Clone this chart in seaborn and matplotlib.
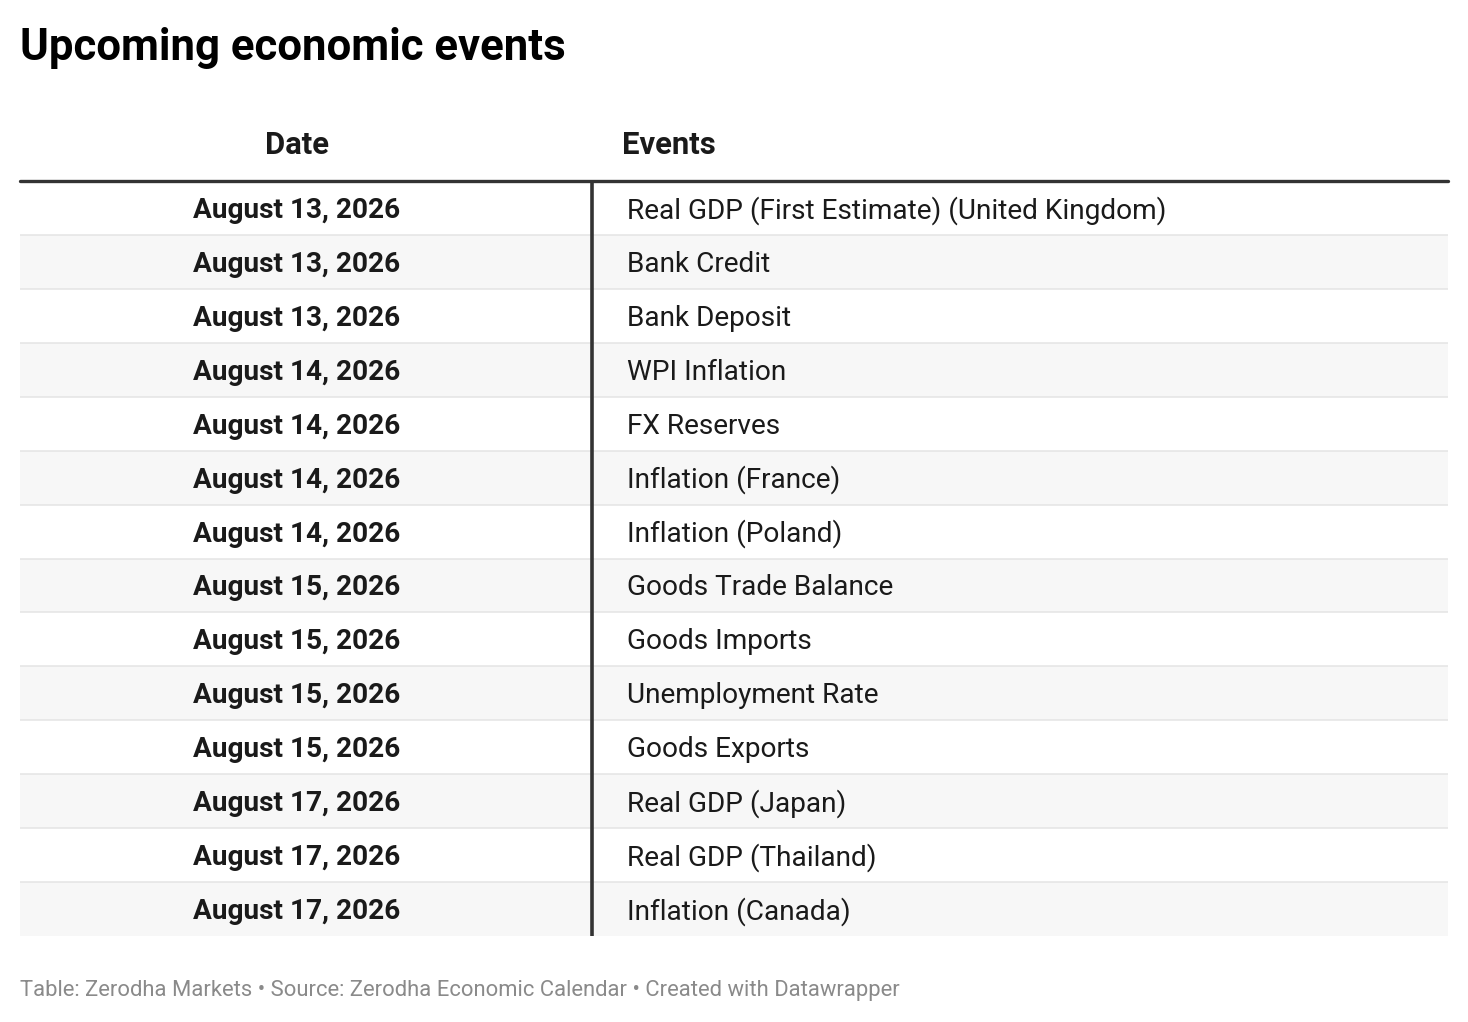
import numpy as np
import pandas as pd
import seaborn as sns
import matplotlib.pyplot as plt
from matplotlib.colors import ListedColormap

# table contents
dates = ['August 13, 2026', 'August 13, 2026', 'August 13, 2026',
         'August 14, 2026', 'August 14, 2026', 'August 14, 2026', 'August 14, 2026',
         'August 15, 2026', 'August 15, 2026', 'August 15, 2026', 'August 15, 2026',
         'August 17, 2026', 'August 17, 2026', 'August 17, 2026']
events = ['Real GDP (First Estimate) (United Kingdom)', 'Bank Credit', 'Bank Deposit',
          'WPI Inflation', 'FX Reserves', 'Inflation (France)', 'Inflation (Poland)',
          'Goods Trade Balance', 'Goods Imports', 'Unemployment Rate', 'Goods Exports',
          'Real GDP (Japan)', 'Real GDP (Thailand)', 'Inflation (Canada)']
headers = ['Date', 'Events']
title = 'Upcoming economic events'
footer = 'Table: Zerodha Markets \u2022 Source: Zerodha Economic Calendar \u2022 Created with Datawrapper'

sns.set_theme(style='white')
plt.rcParams['font.family'] = ['Roboto', 'DejaVu Sans']

W, H = 1468, 1022
fig = plt.figure(figsize=(W / 100, H / 100), dpi=100)

# table body axes: x from 20 to 1448 px, y from 181 to 936 px
left, right, top, bottom = 20, 1448, 181, 936
ax = fig.add_axes([left / W, 1 - bottom / H, (right - left) / W, (bottom - top) / H])

df = pd.DataFrame({'date': dates, 'event': events})
stripe = (np.arange(len(df)) % 2).reshape(-1, 1)
sns.heatmap(stripe, ax=ax, cmap=ListedColormap(['#ffffff', '#f7f7f7']),
            cbar=False, xticklabels=False, yticklabels=False, linewidths=0)

def px_x(px):
    return (px - left) / (right - left)

row_h = (bottom - top) / len(df)
dy = 2.5 / row_h  # nudge text down a little

for i, row in df.iterrows():
    ax.text(px_x(297), i + 0.5 + dy, row['date'], ha='center', va='center',
            fontsize=20.2, fontweight='bold', color='#1a1a1a')
    ax.text(px_x(627), i + 0.5 + dy, row['event'], ha='left', va='center',
            fontsize=20.2, color='#1a1a1a')

# row separators
for i in range(1, len(df)):
    ax.axhline(i, color='#e6e6e6', lw=1.2, zorder=2)

# vertical divider and header rule
ax.axvline(px_x(591.5), color='#333333', lw=2.6, zorder=3)
ax.axhline(0, color='#333333', lw=2.4, zorder=4, clip_on=False)

# header labels
hy = -(top - 145) / row_h
ax.text(px_x(297), hy, headers[0], ha='center', va='center', fontsize=22.3,
        fontweight='bold', color='#1a1a1a', clip_on=False)
ax.text(px_x(622), hy, headers[1], ha='left', va='center', fontsize=22.3,
        fontweight='bold', color='#1a1a1a', clip_on=False)

for s in ax.spines.values():
    s.set_visible(False)

fig.text(20 / W, 1 - 48 / H, title, ha='left', va='center', fontsize=31.5,
         fontweight='bold', color='#000000')
fig.text(20 / W, 1 - 990 / H, footer, ha='left', va='center', fontsize=15.8,
         color='#8a8a8a')

fig.savefig('out.png', dpi=100, facecolor='white')
